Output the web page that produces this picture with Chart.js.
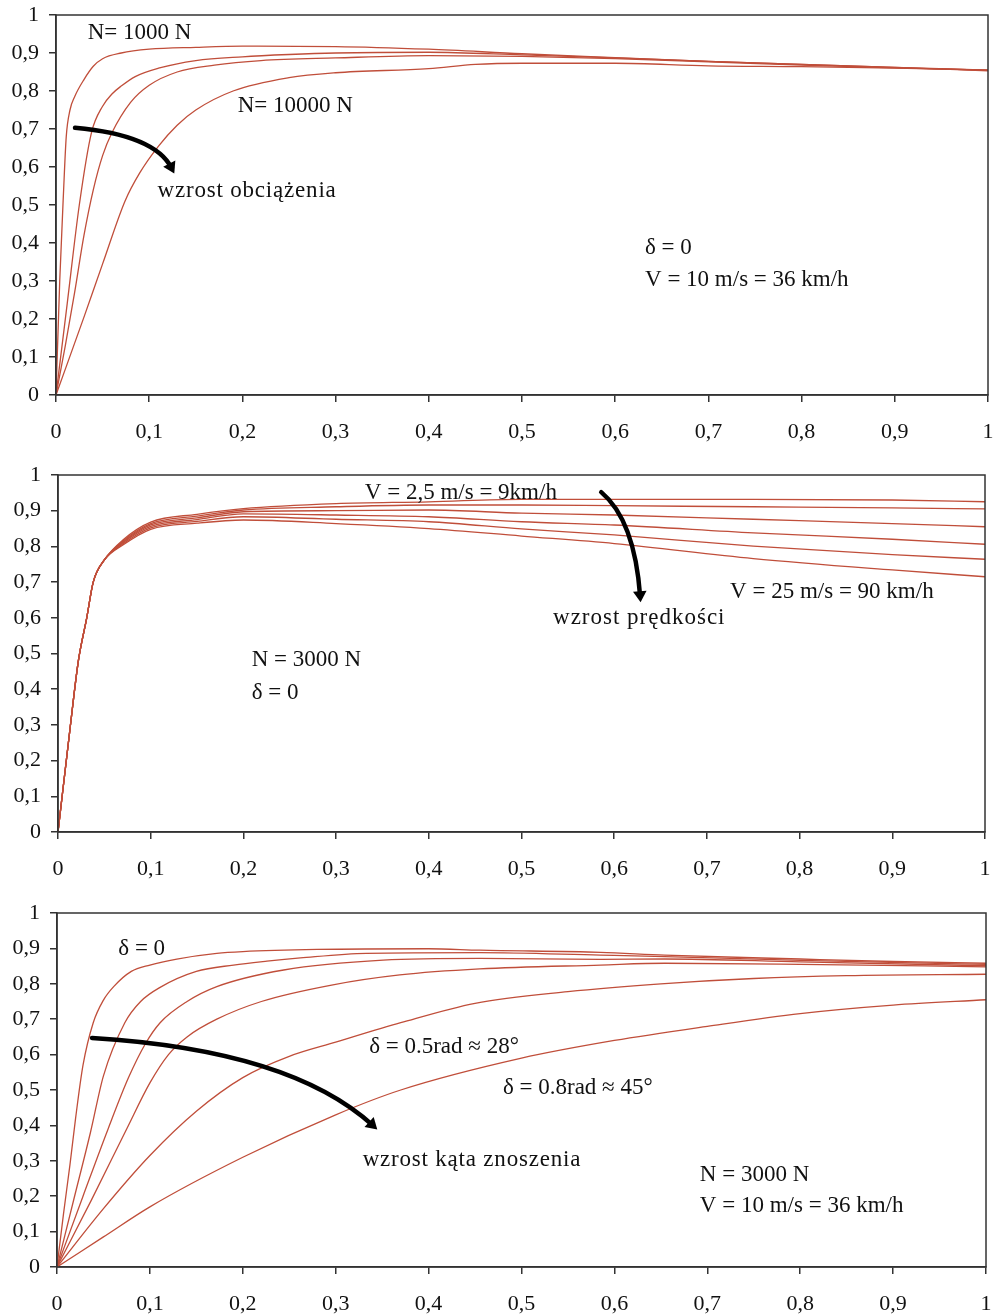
<!DOCTYPE html>
<html>
<head>
<meta charset="utf-8">
<script src="https://cdn.jsdelivr.net/npm/chart.js@4.4.1/dist/chart.umd.min.js"></script>
<style>
  body { margin: 0; background: #fff; }
  canvas { position: absolute; left: 0; }
</style>
</head>
<body>
<canvas id="chartLoad" width="995" height="445" style="top:0"></canvas>
<canvas id="chartSpeed" width="995" height="445" style="top:445px"></canvas>
<canvas id="chartAngle" width="995" height="424" style="top:890px"></canvas>
<script>
// tick labels (decimal comma)
const xTickLabels = ['0', '0,1', '0,2', '0,3', '0,4', '0,5', '0,6', '0,7', '0,8', '0,9', '1'];
const yTickLabels = ['0', '0,1', '0,2', '0,3', '0,4', '0,5', '0,6', '0,7', '0,8', '0,9', '1'];

// panel 1 - load N = 1000 ... 10000 N
const load1X = [0, 0.004, 0.008, 0.011, 0.015, 0.02, 0.03, 0.04, 0.05, 0.07, 0.1, 0.15, 0.2, 0.3, 0.4, 0.5, 0.6, 0.7, 0.8, 0.9, 1];
const load1Y = [0, 0.30, 0.53, 0.68, 0.75, 0.785, 0.83, 0.865, 0.885, 0.90, 0.91, 0.915, 0.918, 0.917, 0.91, 0.898, 0.888, 0.878, 0.870, 0.862, 0.853];
const load2X = [0, 0.006, 0.012, 0.025, 0.038, 0.05, 0.06, 0.07, 0.085, 0.11, 0.15, 0.2, 0.25, 0.3, 0.4, 0.5, 0.6, 0.7, 0.8, 0.9, 1];
const load2Y = [0, 0.12, 0.24, 0.50, 0.69, 0.76, 0.792, 0.813, 0.838, 0.86, 0.88, 0.89, 0.896, 0.90, 0.902, 0.895, 0.887, 0.878, 0.870, 0.862, 0.855];
const load3X = [0, 0.01, 0.02, 0.03, 0.04, 0.05, 0.06, 0.08, 0.1, 0.13, 0.17, 0.22, 0.3, 0.4, 0.5, 0.6, 0.7, 0.8, 0.9, 1];
const load3Y = [0, 0.13, 0.27, 0.42, 0.54, 0.63, 0.69, 0.77, 0.815, 0.85, 0.868, 0.88, 0.887, 0.893, 0.891, 0.885, 0.877, 0.868, 0.861, 0.855];
const load4X = [0, 0.03, 0.05, 0.074, 0.09, 0.11, 0.13, 0.15, 0.19, 0.25, 0.3, 0.4, 0.45, 0.5, 0.6, 0.7, 0.8, 0.9, 1];
const load4Y = [0, 0.205, 0.345, 0.51, 0.585, 0.655, 0.71, 0.75, 0.80, 0.835, 0.848, 0.859, 0.87, 0.873, 0.873, 0.866, 0.864, 0.86, 0.855];

// panel 2 - speed V = 2,5 ... 25 m/s
const speedX = [0, 0.013, 0.022, 0.031, 0.038, 0.05, 0.07, 0.1, 0.15, 0.2, 0.3, 0.4, 0.5, 0.6, 0.75, 0.9, 1];
const speed1Y = [0, 0.29, 0.48, 0.60, 0.70, 0.762, 0.818, 0.868, 0.89, 0.906, 0.92, 0.925, 0.932, 0.932, 0.932, 0.93, 0.925];
const speed2Y = [0, 0.29, 0.48, 0.60, 0.70, 0.762, 0.815, 0.864, 0.885, 0.902, 0.911, 0.916, 0.916, 0.914, 0.911, 0.908, 0.905];
const speed3Y = [0, 0.29, 0.48, 0.60, 0.70, 0.762, 0.812, 0.86, 0.88, 0.897, 0.90, 0.902, 0.893, 0.888, 0.876, 0.864, 0.855];
const speed4Y = [0, 0.29, 0.48, 0.60, 0.70, 0.762, 0.81, 0.856, 0.875, 0.891, 0.888, 0.883, 0.869, 0.86, 0.838, 0.82, 0.806];
const speed5Y = [0, 0.29, 0.48, 0.60, 0.70, 0.762, 0.807, 0.852, 0.87, 0.883, 0.876, 0.869, 0.849, 0.832, 0.801, 0.777, 0.764];
const speed6Y = [0, 0.29, 0.48, 0.60, 0.70, 0.762, 0.804, 0.848, 0.865, 0.874, 0.864, 0.85, 0.829, 0.808, 0.766, 0.734, 0.715];

// panel 3 - slip angle delta = 0 ... 0.8 rad
const angle1X = [0, 0.007, 0.014, 0.02, 0.028, 0.039, 0.05, 0.061, 0.08, 0.1, 0.129, 0.172, 0.2, 0.28, 0.4, 0.455, 0.585, 0.654, 0.8, 0.9, 1];
const angle1Y = [0, 0.15, 0.29, 0.42, 0.57, 0.69, 0.754, 0.792, 0.835, 0.853, 0.87, 0.886, 0.891, 0.897, 0.899, 0.895, 0.889, 0.881, 0.87, 0.863, 0.858];
const angle2X = [0, 0.018, 0.036, 0.05, 0.073, 0.09, 0.111, 0.15, 0.19, 0.226, 0.262, 0.333, 0.455, 0.585, 0.654, 0.8, 1];
const angle2Y = [0, 0.19, 0.38, 0.54, 0.69, 0.75, 0.79, 0.835, 0.853, 0.864, 0.873, 0.886, 0.888, 0.881, 0.877, 0.866, 0.855];
const angle3X = [0, 0.028, 0.055, 0.077, 0.095, 0.111, 0.14, 0.172, 0.244, 0.351, 0.455, 0.585, 0.654, 0.8, 1];
const angle3Y = [0, 0.2, 0.39, 0.535, 0.63, 0.69, 0.75, 0.792, 0.839, 0.867, 0.872, 0.869, 0.87, 0.862, 0.851];
const angle4X = [0, 0.037, 0.075, 0.1, 0.12, 0.14, 0.172, 0.22, 0.297, 0.369, 0.455, 0.585, 0.654, 0.8, 1];
const angle4Y = [0, 0.189, 0.39, 0.52, 0.6, 0.65, 0.70, 0.75, 0.797, 0.825, 0.842, 0.853, 0.858, 0.855, 0.848];
const angle5X = [0, 0.05, 0.1, 0.15, 0.2, 0.25, 0.3, 0.37, 0.45, 0.55, 0.65, 0.75, 0.85, 1];
const angle5Y = [0, 0.165, 0.315, 0.44, 0.535, 0.595, 0.635, 0.69, 0.745, 0.778, 0.80, 0.815, 0.823, 0.827];
const angle6X = [0, 0.05, 0.1, 0.2, 0.3, 0.37, 0.5, 0.6, 0.7, 0.8, 0.9, 1];
const angle6Y = [0, 0.085, 0.17, 0.31, 0.43, 0.5, 0.59, 0.64, 0.68, 0.716, 0.74, 0.755];

const LINE = 'rgb(192, 78, 58)';
const AXIS = '#333';
const FONT = "'Liberation Serif', 'Times New Roman', serif";

function pts(xs, ys) {
    return xs.map((x, i) => ({x: x, y: ys[i]}));
}

function series(label, xs, ys) {
    return {
        label: label,
        data: pts(xs, ys),
        borderColor: LINE,
        borderWidth: 1.3,
        pointRadius: 0,
        cubicInterpolationMode: 'monotone',
        fill: false
    };
}

// texts and curved arrows, placed in data units
function notes(texts, arrows) {
    return {
        id: 'notes',
        afterDraw(chart) {
            const ctx = chart.ctx;
            const sx = chart.scales.x, sy = chart.scales.y;
            const a = chart.chartArea;
            ctx.save();
            ctx.strokeStyle = AXIS;
            ctx.lineWidth = 1.5;
            ctx.strokeRect(a.left, a.top, a.width, a.height);

            ctx.fillStyle = '#111';
            ctx.font = '23px ' + FONT;
            ctx.textBaseline = 'middle';
            texts.forEach(t => {
                ctx.letterSpacing = (t.spacing || 0) + 'px';
                ctx.fillText(t.text, sx.getPixelForValue(t.x), sy.getPixelForValue(t.y));
            });
            ctx.letterSpacing = '0px';

            arrows.forEach(ar => {
                const p = ar.map(q => [sx.getPixelForValue(q[0]), sy.getPixelForValue(q[1])]);
                const ang = Math.atan2(p[2][1] - p[1][1], p[2][0] - p[1][0]);
                ctx.strokeStyle = '#000';
                ctx.lineWidth = 4.5;
                ctx.lineCap = 'round';
                ctx.beginPath();
                ctx.moveTo(p[0][0], p[0][1]);
                ctx.quadraticCurveTo(p[1][0], p[1][1], p[2][0], p[2][1]);
                ctx.stroke();
                const tipX = p[2][0] + Math.cos(ang) * 6, tipY = p[2][1] + Math.sin(ang) * 6;
                ctx.fillStyle = '#000';
                ctx.beginPath();
                ctx.moveTo(tipX, tipY);
                ctx.lineTo(tipX - Math.cos(ang - 0.55) * 13, tipY - Math.sin(ang - 0.55) * 13);
                ctx.lineTo(tipX - Math.cos(ang + 0.55) * 13, tipY - Math.sin(ang + 0.55) * 13);
                ctx.closePath();
                ctx.fill();
            });
            ctx.restore();
        }
    };
}

function makeChart(id, datasets, box, texts, arrows) {
    return new Chart(document.getElementById(id), {
        type: 'line',
        data: {datasets: datasets},
        options: {
            responsive: false,
            animation: false,
            layout: {autoPadding: false, padding: {top: box.top, right: box.right, left: 0, bottom: 0}},
            plugins: {legend: {display: false}, tooltip: {enabled: false}},
            scales: {
                x: {
                    type: 'linear', min: 0, max: 1,
                    afterFit: s => {
                        s.height = box.xh;
                        s.paddingLeft = 0; s.paddingRight = 0;
                    },
                    ticks: {
                        stepSize: 0.1, autoSkip: false, maxRotation: 0, padding: 17,
                        color: '#111', font: {family: FONT, size: 22},
                        callback: v => xTickLabels[Math.round(v * 10)]
                    },
                    grid: {drawOnChartArea: false, tickLength: 7, color: AXIS, lineWidth: 1.5},
                    border: {color: AXIS, width: 1.5}
                },
                y: {
                    min: 0, max: 1,
                    afterFit: s => {
                        s.width = box.yw;
                        s.paddingTop = 0; s.paddingBottom = 0;
                    },
                    ticks: {
                        stepSize: 0.1, autoSkip: false, padding: 10,
                        color: '#111', font: {family: FONT, size: 22},
                        callback: v => yTickLabels[Math.round(v * 10)]
                    },
                    grid: {drawOnChartArea: false, tickLength: 7, color: AXIS, lineWidth: 1.5},
                    border: {color: AXIS, width: 1.5}
                }
            }
        },
        plugins: [notes(texts, arrows)]
    });
}

makeChart('chartLoad', [
    series('N = 1000 N', load1X, load1Y),
    series('N2', load2X, load2Y),
    series('N3', load3X, load3Y),
    series('N = 10000 N', load4X, load4Y)
], {top: 15, right: 7, yw: 56, xh: 50}, [
    {text: 'N= 1000 N', x: 0.034, y: 0.953},
    {text: 'N= 10000 N', x: 0.195, y: 0.76},
    {text: 'wzrost obciążenia', x: 0.109, y: 0.537, spacing: 0.8},
    {text: 'δ = 0', x: 0.632, y: 0.387},
    {text: 'V = 10 m/s = 36 km/h', x: 0.632, y: 0.303}
], [
    [[0.0204, 0.703], [0.106, 0.684], [0.124, 0.597]]
]);

makeChart('chartSpeed', [
    series('V = 2,5 m/s', speedX, speed1Y),
    series('V2', speedX, speed2Y),
    series('V3', speedX, speed3Y),
    series('V4', speedX, speed4Y),
    series('V5', speedX, speed5Y),
    series('V = 25 m/s', speedX, speed6Y)
], {top: 30, right: 10, yw: 58, xh: 58}, [
    {text: 'V = 2,5 m/s = 9km/h', x: 0.331, y: 0.95},
    {text: 'V = 25 m/s = 90 km/h', x: 0.725, y: 0.672},
    {text: 'wzrost prędkości', x: 0.534, y: 0.599, spacing: 1},
    {text: 'N = 3000 N', x: 0.209, y: 0.482},
    {text: 'δ = 0', x: 0.209, y: 0.389}
], [
    [[0.586, 0.952], [0.622, 0.874], [0.628, 0.66]]
]);

makeChart('chartAngle', [
    series('δ = 0', angle1X, angle1Y),
    series('δ2', angle2X, angle2Y),
    series('δ3', angle3X, angle3Y),
    series('δ4', angle4X, angle4Y),
    series('δ = 0.5 rad', angle5X, angle5Y),
    series('δ = 0.8 rad', angle6X, angle6Y)
], {top: 23, right: 9, yw: 57, xh: 47}, [
    {text: 'δ = 0', x: 0.066, y: 0.898},
    {text: 'δ = 0.5rad ≈ 28°', x: 0.336, y: 0.622},
    {text: 'δ = 0.8rad ≈ 45°', x: 0.48, y: 0.506},
    {text: 'wzrost kąta znoszenia', x: 0.329, y: 0.302, spacing: 0.8},
    {text: 'N = 3000 N', x: 0.692, y: 0.26},
    {text: 'V = 10 m/s = 36 km/h', x: 0.692, y: 0.172}
], [
    [[0.0377, 0.647], [0.251, 0.613], [0.34, 0.4]]
]);
</script>
</body>
</html>
